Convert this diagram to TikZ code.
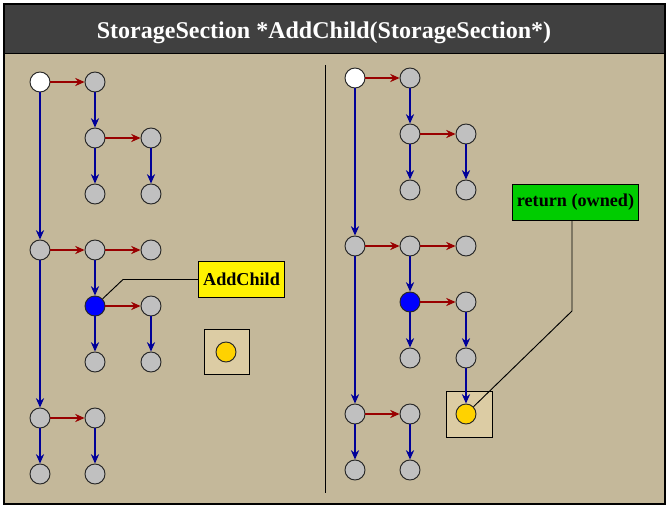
\documentclass[tikz,border=0pt]{standalone}
\usepackage{fontspec}
\setmainfont{Liberation Serif}
\usetikzlibrary{arrows.meta}
\definecolor{panelbg}{HTML}{C4B89A}
\definecolor{boxbg}{HTML}{DCCCA4}
\definecolor{titlebg}{HTML}{404040}
\definecolor{sectgray}{HTML}{C0C0C0}
\definecolor{childred}{HTML}{990000}
\definecolor{nextblue}{HTML}{000099}
\definecolor{newgold}{HTML}{FFD200}
\definecolor{retgreen}{HTML}{00CC00}
\tikzset{%
  sect/.style={circle, draw=black!85, line width=0.8pt, fill=sectgray,
               minimum size=0.6cm, inner sep=0pt},
  root/.style={sect, fill=white},
  current/.style={sect, fill=blue},
  added/.style={sect, fill=newgold},
  child/.style={draw=childred, line width=1.8pt,
                -{Stealth[length=8pt,width=7pt]}},
  next/.style={draw=nextblue, line width=1.8pt,
               -{Stealth[length=8pt,width=7pt]}},
  note/.style={draw=black, line width=0.8pt, font=\bfseries\fontsize{15.5}{18}\selectfont,
               minimum height=1.07cm, inner xsep=4pt},
}

\begin{document}
\begin{tikzpicture}[x=0.03cm, y=-0.03cm]
    \useasboundingbox (0,0) rectangle (669,509);

    % frame and title bar
    \fill[panelbg] (4,4) rectangle (665,504);
    \fill[titlebg] (4,4) rectangle (665,53);
    \draw[line width=1pt] (4,4) rectangle (665,504);
    \draw[line width=0.8pt] (4,53) -- (665,53);
    \node[text=white, font=\bfseries\fontsize{20.5}{24}\selectfont] (title) at (324,33)
        {StorageSection *AddChild(StorageSection*)};

    % divider
    \draw[line width=0.8pt] (325,65) -- (325,493);

    % the same tree before and after
    \foreach \side/\dx/\dy in {L/0/0, R/315/-4} {
      \begin{scope}[shift={(\dx,\dy)}, name prefix=\side-]
        \node[root] (s0) at (40,82) {};
        \node[sect] (s1) at (95,82) {};
        \node[sect] (s2) at (95,138) {};
        \node[sect] (s3) at (151,138) {};
        \node[sect] (s4) at (95,194) {};
        \node[sect] (s5) at (151,194) {};
        \node[sect] (s6) at (40,250) {};
        \node[sect] (s7) at (95,250) {};
        \node[sect] (s8) at (151,250) {};
        \node[current] (s9) at (95,306) {};
        \node[sect] (s10) at (151,306) {};
        \node[sect] (s11) at (95,362) {};
        \node[sect] (s12) at (151,362) {};
        \node[sect] (s13) at (40,418) {};
        \node[sect] (s14) at (95,418) {};
        \node[sect] (s15) at (40,474) {};
        \node[sect] (s16) at (95,474) {};

        %children
        \draw[child] (s0) -- (s1);
        \draw[child] (s2) -- (s3);
        \draw[child] (s6) -- (s7);
        \draw[child] (s7) -- (s8);
        \draw[child] (s9) -- (s10);
        \draw[child] (s13) -- (s14);

        %siblings
        \draw[next] (s1) -- (s2);
        \draw[next] (s2) -- (s4);
        \draw[next] (s3) -- (s5);
        \draw[next] (s0) -- (s6);
        \draw[next] (s7) -- (s9);
        \draw[next] (s9) -- (s11);
        \draw[next] (s10) -- (s12);
        \draw[next] (s6) -- (s13);
        \draw[next] (s13) -- (s15);
        \draw[next] (s14) -- (s16);
      \end{scope}
    }

    % left: the new section, not yet linked
    \fill[boxbg] (204,329) rectangle (249,374);
    \draw[line width=0.8pt] (204,329) rectangle (249,374);
    \node[added] (L-new) at (226,352) {};

    \node[note, fill=yellow] (call) at (241.5,279.5) {AddChild};
    \draw[line width=0.8pt] (call.west) -- (123,279.5) -- (L-s9);

    % right: the new section linked in
    \fill[boxbg] (446,391) rectangle (492,437);
    \draw[line width=0.8pt] (446,391) rectangle (492,437);
    \node[added] (R-new) at (466,414) {};
    \draw[next] (R-s12) -- (R-new);

    \node[note, fill=retgreen] (ret) at (575.5,202.5) {return (owned)};
    \coordinate (bend) at (572,311);
    \draw[line width=0.8pt] (ret.south -| bend) -- (bend) -- (R-new);

\end{tikzpicture}
\end{document}
